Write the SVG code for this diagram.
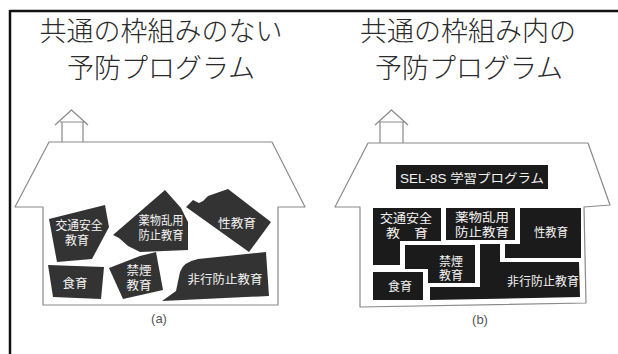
<svg xmlns="http://www.w3.org/2000/svg" width="618" height="354" viewBox="0 0 618 354">
  <style>
    .title { font-family: "Liberation Serif", "Noto Sans CJK JP", serif; font-size: 27px; fill: #2a2a2a; font-weight: 300; text-anchor: middle; }
    .house { fill: none; stroke: #8a8a8a; stroke-width: 1.2; stroke-linejoin: round; }
    .piece { fill: #333; }
    .block { fill: #1b1b1b; }
    .lbl { font-family: "Liberation Sans", "Noto Sans CJK JP", sans-serif; font-size: 12px; fill: #f4f4f4; text-anchor: middle; }
    .cap { font-family: "Liberation Sans", "DejaVu Sans", sans-serif; font-size: 13px; fill: #555; text-anchor: middle; }
  </style>

  <!-- page frame -->
  <g id="frame" fill="none" stroke="#111" stroke-width="2.5">
    <line x1="10" y1="11" x2="618" y2="11"/>
    <line x1="10" y1="10" x2="10" y2="354"/>
  </g>

  <!-- headings -->
  <g id="title-a">
    <text class="title" x="161" y="41">共通の枠組みのない</text>
    <text class="title" x="161" y="78">予防プログラム</text>
  </g>
  <g id="title-b">
    <text class="title" x="468" y="41">共通の枠組み内の</text>
    <text class="title" x="469" y="78">予防プログラム</text>
  </g>

  <!-- (a) house without a shared framework -->
  <g id="house-a">
    <path class="house" d="M43,305 L43,207 L15,207 L49,142 L272,142 L305,207 L278,207 L278,305 Z"/>
    <path class="house" d="M55,125 L71.5,110 L88,125 M60,122 L84,122 M62,122 L62,142 M83,122 L83,142"/>
    <text class="cap" x="159" y="323">(a)</text>
  </g>

  <g id="a-traffic">
    <polygon class="piece" points="49,219 105,205 109,227 92,259 57,262"/>
    <text class="lbl" x="79" y="230" textLength="47" lengthAdjust="spacingAndGlyphs">交通安全</text>
    <text class="lbl" x="77" y="245" textLength="24" lengthAdjust="spacingAndGlyphs">教育</text>
  </g>
  <g id="a-drug">
    <polygon class="piece" points="165,190 181,208 188,222 188,250 140,252 128,246 119,238 113,235"/>
    <text class="lbl" x="161" y="225" textLength="45" lengthAdjust="spacingAndGlyphs">薬物乱用</text>
    <text class="lbl" x="161" y="240" textLength="45" lengthAdjust="spacingAndGlyphs">防止教育</text>
  </g>
  <g id="a-sex">
    <polygon class="piece" points="186,207 193,200 199,203 203,201 208,196 228,189 271,222 249,252"/>
    <text class="lbl" x="237" y="228" textLength="38" lengthAdjust="spacingAndGlyphs">性教育</text>
  </g>
  <g id="a-food">
    <polygon class="piece" points="48,265 104,267 101,299 53,297"/>
    <text class="lbl" x="75" y="288" textLength="25" lengthAdjust="spacingAndGlyphs">食育</text>
  </g>
  <g id="a-smoke">
    <polygon class="piece" points="109,268 140,256 156,252 163,290 123,299"/>
    <text class="lbl" x="139" y="275" textLength="25" lengthAdjust="spacingAndGlyphs">禁煙</text>
    <text class="lbl" x="139" y="290" textLength="25" lengthAdjust="spacingAndGlyphs">教育</text>
  </g>
  <g id="a-delinquency">
    <path class="piece" d="M162,301 L176,291 L180,272 Q183,262 198,259 L266,252 L269,296 Z"/>
    <text class="lbl" x="225" y="284" textLength="75" lengthAdjust="spacingAndGlyphs">非行防止教育</text>
  </g>

  <!-- (b) house with the SEL-8S framework -->
  <g id="house-b">
    <path class="house" d="M360,307 L360,207 L335,207 L368,143 L588,143 L610,205 L584,207 L586,303 Z"/>
    <path class="house" d="M375,125 L391.5,110 L408,125 M379,122 L405,122 M380,122 L380,143 M403,122 L403,143"/>
    <text class="cap" x="480" y="324">(b)</text>
  </g>

  <g id="b-sel8s">
    <rect class="block" x="396" y="165" width="152" height="24"/>
    <text class="lbl" x="472" y="183" font-size="14" textLength="144" lengthAdjust="spacingAndGlyphs">SEL-8S 学習プログラム</text>
  </g>
  <g id="b-traffic">
    <polygon class="block" points="373,208 441,208 441,241 400,241 400,265 373,265"/>
    <text class="lbl" x="406" y="223" textLength="52" lengthAdjust="spacingAndGlyphs">交通安全</text>
    <text class="lbl" x="407" y="238" textLength="42" lengthAdjust="spacingAndGlyphs">教　育</text>
  </g>
  <g id="b-drug">
    <rect class="block" x="446" y="208" width="69" height="32"/>
    <text class="lbl" x="482" y="222" textLength="54" lengthAdjust="spacingAndGlyphs">薬物乱用</text>
    <text class="lbl" x="482" y="237" textLength="54" lengthAdjust="spacingAndGlyphs">防止教育</text>
  </g>
  <g id="b-sex">
    <polygon class="block" points="520,208 581,208 581,258 505,258 505,244 520,244"/>
    <text class="lbl" x="551" y="237" textLength="34" lengthAdjust="spacingAndGlyphs">性教育</text>
  </g>
  <g id="b-smoke">
    <polygon class="block" points="405,245 475,245 475,283 428,283 428,269 405,269"/>
    <text class="lbl" x="451" y="266" textLength="24" lengthAdjust="spacingAndGlyphs">禁煙</text>
    <text class="lbl" x="451" y="280" textLength="24" lengthAdjust="spacingAndGlyphs">教育</text>
  </g>
  <g id="b-food">
    <rect class="block" x="373" y="272" width="50" height="28"/>
    <text class="lbl" x="400" y="291" textLength="24" lengthAdjust="spacingAndGlyphs">食育</text>
  </g>
  <g id="b-delinquency">
    <polygon class="block" points="480,244 500,244 500,262 579,262 580,297 430,300 430,287 480,287"/>
    <text class="lbl" x="543" y="286" textLength="72" lengthAdjust="spacingAndGlyphs">非行防止教育</text>
  </g>
</svg>
